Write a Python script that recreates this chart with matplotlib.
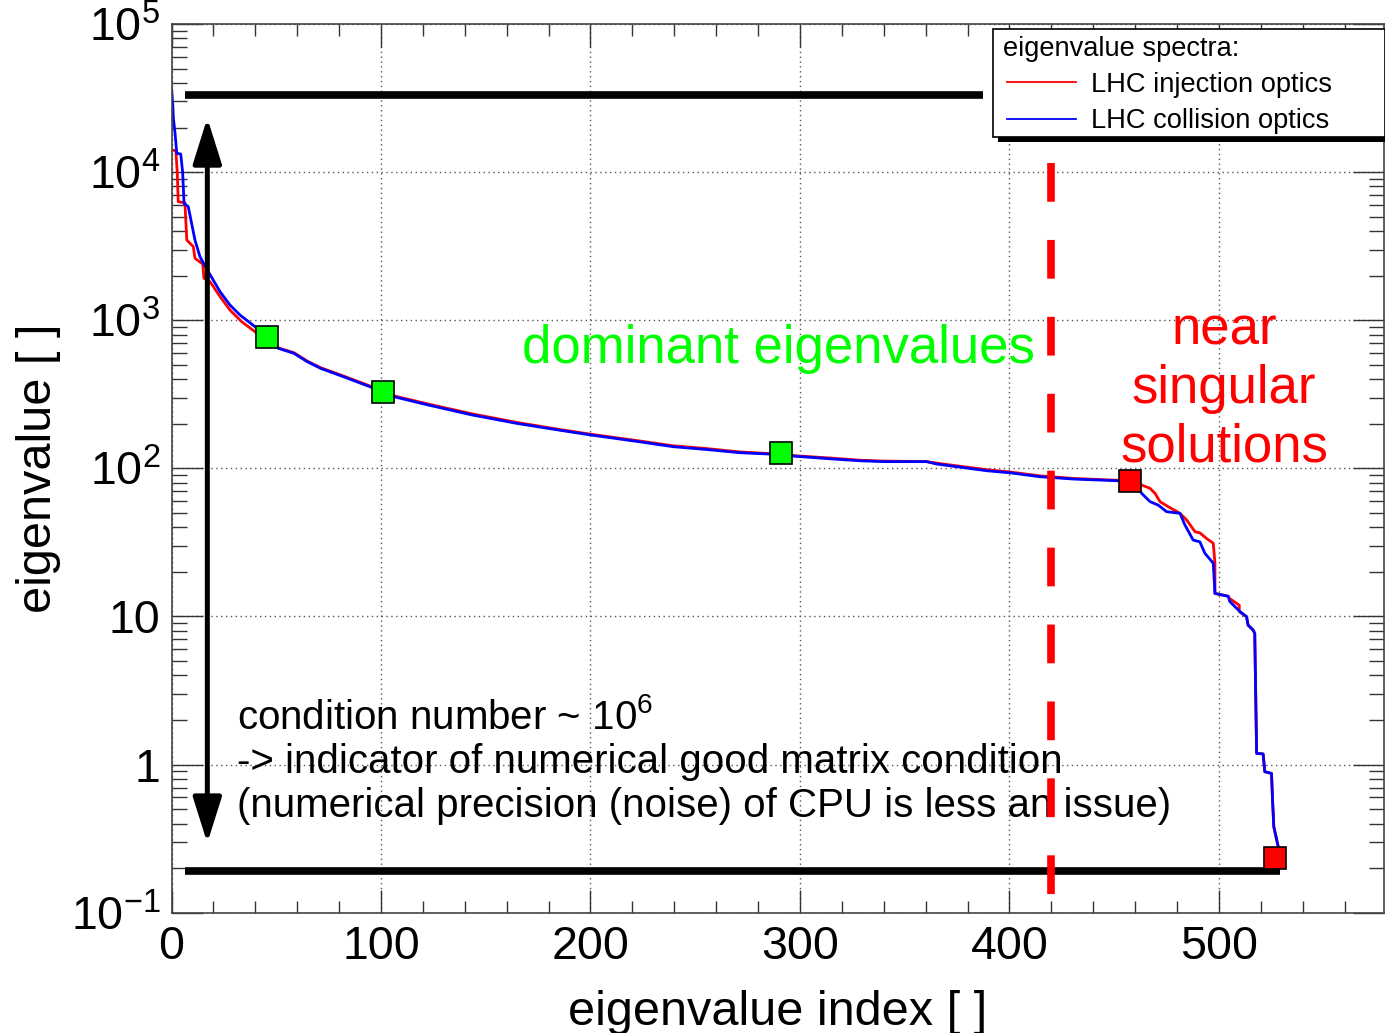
import matplotlib
matplotlib.use('Agg')
import matplotlib.pyplot as plt
from matplotlib.lines import Line2D
from matplotlib.patches import Rectangle
from matplotlib.ticker import MultipleLocator, LogLocator, NullFormatter

# Eigenwert-Spektren
injection_index = [0.1, 2.1, 2.8, 3.2, 6.4, 7.3, 10.4, 11.2, 14.9, 15.5, 18.4, 23.2, 27.9, 33.5, 39.9,
                   51.0, 58.4, 64.8, 71.2, 79.8, 94.7, 106.4, 122.4, 143.7, 165.0, 186.3, 200.1,
                   223.6, 239.5, 255.5, 271.4, 284.9, 296.8, 315.9, 328.6, 339.8, 360.5, 365.2,
                   374.8, 389.1, 400.2, 414.6, 430.4, 452.3, 463.1, 467.1, 469.5, 471.9, 475.8,
                   481.4, 484.6, 488.6, 490.9, 494.1, 497.3, 498.1, 498.1, 504.4, 505.2, 509.7,
                   509.7, 513.2, 513.9, 516.3, 517.1, 518.0, 521.1, 521.9, 525.1, 525.6, 526.2,
                   528.3, 529.1]
injection_eigenvalue = [14100, 13950, 9560, 6310, 6210, 3480, 3140, 2620, 2395, 1920, 1820, 1442,
                        1172, 977, 836,
                        650, 604, 530, 478, 432, 360, 308, 272, 233, 204, 182, 170,
                        153, 142, 136, 129, 126, 122, 117, 113.5, 112, 111, 108.5,
                        104, 98, 94.5, 89, 85.5, 83.0, 77.1, 73.3, 67.8, 59.5, 55.1,
                        49.7, 44.8, 37.3, 36.7, 33.6, 31.2, 22.9, 14.3, 13.7, 13.2, 11.9,
                        10.8, 9.96, 8.75, 8.1, 7.69, 1.19, 1.18, 0.895, 0.872, 0.575, 0.38,
                        0.279, 0.23]

collision_index = [0.1, 0.6, 0.9, 1.7, 2.5, 4.4, 5.3, 6.0, 8.0, 9.6, 11.2, 13.6, 17.6, 23.2, 27.9,
                   32.7, 39.9, 51.0, 58.4, 64.8, 71.2, 79.8, 94.7, 106.4, 122.4, 143.7, 165.0,
                   186.3, 200.1, 223.6, 239.5, 255.5, 271.4, 284.9, 296.8, 315.9, 328.6, 339.8,
                   360.5, 365.2, 374.8, 389.1, 400.2, 414.6, 430.4, 452.3, 460.0, 463.1, 467.1,
                   471.0, 475.0, 481.4, 483.8, 487.7, 490.9, 493.3, 497.3, 498.1, 504.4, 505.2,
                   510.0, 513.2, 513.9, 516.3, 517.1, 518.0, 521.1, 521.9, 525.1, 525.6, 526.2,
                   528.3, 529.1]
collision_eigenvalue = [35800, 28400, 23100, 18300, 13400, 13250, 10070, 6150, 5840, 4510, 3480,
                        2680, 2125, 1557, 1267, 1084, 904, 646, 598, 525, 473, 427, 356, 304, 268,
                        229, 201, 180, 168, 151, 140, 134, 127.5, 125, 121, 115.6, 112.5, 111,
                        111, 107, 102.6, 96.4, 93.3, 87.8, 84.7, 82.4, 80, 67.8, 59.6,
                        56.5, 51, 49.7, 41.4, 32.8, 31.9, 26.7, 22.9, 14.3, 13.7, 12.6,
                        10.8, 9.96, 8.75, 8.1, 7.69, 1.19, 1.18, 0.895, 0.872, 0.575, 0.38,
                        0.279, 0.23]

dominant_index = [45.6, 101.0, 290.9]
dominant_eigenvalue = [770, 327, 127]
singular_index = [457.5, 526.6]
singular_eigenvalue = [82.7, 0.234]

x_ticks = [0, 100, 200, 300, 400, 500]
y_ticks = [0.1, 1, 10, 100, 1e3, 1e4, 1e5]
y_tick_labels = [r'$10^{-1}$', '1', '10', r'$10^{2}$', r'$10^{3}$', r'$10^{4}$', r'$10^{5}$']

max_level = 33400      # groesster Eigenwert (obere Linie)
min_level = 0.191      # kleinster Eigenwert (untere Linie)
cut_index = 420        # Schnitt bei Index 420

W, H = 1385, 1033
GREEN = '#00ff00'


def px(x, y):
    # Pixel -> Figure-Koordinaten
    return x / W, 1 - y / H


plt.rcParams['font.family'] = 'Liberation Sans'
plt.rcParams['mathtext.fontset'] = 'custom'
plt.rcParams['mathtext.rm'] = 'Liberation Sans'
plt.rcParams['mathtext.it'] = 'Liberation Sans:italic'
plt.rcParams['mathtext.bf'] = 'Liberation Sans:bold'

fig = plt.figure(figsize=(W / 100, H / 100), dpi=100)
ax = fig.add_axes([171.5 / W, 1 - 912.7 / H, (1384 - 171.5) / W, (912.7 - 24) / H])

ax.plot(injection_index, injection_eigenvalue, color='red', lw=2.0, zorder=2)
ax.plot(collision_index, collision_eigenvalue, color='blue', lw=2.0, zorder=2.1)

ax.plot(dominant_index, dominant_eigenvalue, ls='none', marker='s', ms=16.5,
        mfc=GREEN, mec='black', mew=1.2, zorder=5)
ax.plot(singular_index, singular_eigenvalue, ls='none', marker='s', ms=16.5,
        mfc='red', mec='black', mew=1.2, zorder=5)

# Grenzen des Spektrums
ax.plot([6.4, 387.4], [max_level, max_level], color='black', lw=5.5, solid_capstyle='butt', zorder=3)
ax.plot([6.4, 529.1], [min_level, min_level], color='black', lw=5.5, solid_capstyle='butt', zorder=3)
ax.plot([cut_index, cut_index], [11520, 0.1315], color='red', lw=5.5,
        linestyle=(0, (5.07, 5.0)), zorder=4)

ax.annotate('', xy=(17.1, 0.295), xytext=(17.1, 23200),
            arrowprops=dict(arrowstyle='<|-|>,head_length=2.8,head_width=0.88',
                            lw=3.6, color='black', shrinkA=0, shrinkB=0, mutation_scale=10))

# Beschriftungen
ax.text(167.5, 512, 'dominant eigenvalues', color=GREEN, fontsize=38, va='baseline')
for label, yv in zip(['near', 'singular', 'solutions'], [691, 276, 110.8]):
    ax.text(502.4, yv, label, color='red', fontsize=38, ha='center', va='baseline')
cond_lines = ['condition number ~ $10^{6}$',
              '-> indicator of numerical good matrix condition',
              '(numerical precision (noise) of CPU is less an issue)']
for label, yv in zip(cond_lines, [1.74, 0.876, 0.442]):
    ax.text(31.3, yv, label, color='black', fontsize=29, va='baseline')

# Achsen
ax.set_yscale('log')
ax.set_xlim(0, 578.8)
ax.set_ylim(0.1, 1e5)
ax.set_xticks(x_ticks, [str(t) for t in x_ticks])
ax.set_yticks(y_ticks, y_tick_labels)
ax.xaxis.set_minor_locator(MultipleLocator(20))
ax.yaxis.set_minor_locator(LogLocator(base=10, subs=range(2, 10), numticks=20))
ax.yaxis.set_minor_formatter(NullFormatter())

ax.tick_params(axis='both', which='both', direction='in', top=True, right=True,
               color='#333333', width=1.0)
ax.tick_params(axis='x', which='major', length=16.3, pad=9, labelsize=33.5)
ax.tick_params(axis='x', which='minor', length=8.6)
ax.tick_params(axis='y', which='major', length=22, pad=8, labelsize=33.5)
ax.tick_params(axis='y', which='minor', length=11)
for s in ax.spines.values():
    s.set_color('#444444')
    s.set_linewidth(1.2)

ax.grid(True, which='major', linestyle=(0, (1, 2.5)), color='#555555', linewidth=1.0)
ax.set_axisbelow(True)

ax.set_xlabel('eigenvalue index [ ]', fontsize=35)
ax.set_ylabel('eigenvalue [ ]', fontsize=35)
ax.xaxis.set_label_coords(0.5, -0.087)
ax.yaxis.set_label_coords(-0.0915, 0.5)

# Legende (ROOT-Stil mit Schatten)
fig.add_artist(Rectangle(px(998, 142), (1390 - 998) / W, (142 - 34) / H,
                         transform=fig.transFigure, facecolor='black', edgecolor='none'))
fig.add_artist(Rectangle(px(993, 137), (1384.5 - 993) / W, (137 - 29) / H,
                         transform=fig.transFigure, facecolor='white', edgecolor='black', lw=1.2))
fig.text(*px(1003, 56), 'eigenvalue spectra:', fontsize=19.6, va='baseline')
for label, color, y_line, y_text in [('LHC injection optics', 'red', 82.3, 91.7),
                                     ('LHC collision optics', 'blue', 119, 128.3)]:
    fig.add_artist(Line2D([1007 / W, 1076 / W], [1 - y_line / H] * 2, color=color, lw=1.3,
                          transform=fig.transFigure))
    fig.text(*px(1091, y_text), label, fontsize=19.6, va='baseline')

fig.savefig('out.png', dpi=100)
